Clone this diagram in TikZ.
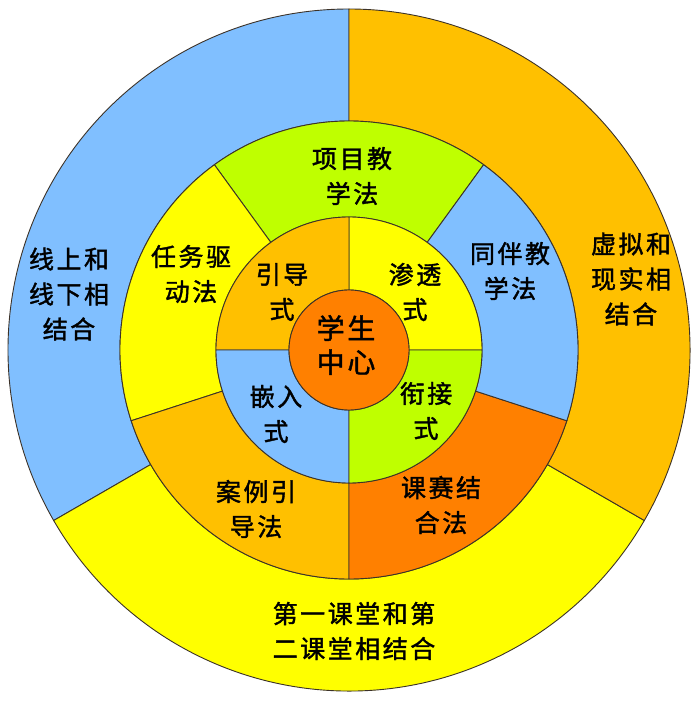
\documentclass[tikz,border=0pt]{standalone}
\usepackage{fontspec}
\newfontfamily\cjk{Noto Sans CJK SC}[LetterSpace=10,FakeBold=1.5]
\usepackage{tikz}
\definecolor{skyblue}{RGB}{128,191,255}
\definecolor{amber}{RGB}{255,192,0}
\definecolor{lemon}{RGB}{255,255,0}
\definecolor{lime}{RGB}{191,255,0}
\definecolor{tangerine}{RGB}{255,128,0}
\definecolor{edge}{RGB}{60,50,40}

\begin{document}
\begin{tikzpicture}[x=1pt,y=1pt,
  ring/.style={draw=edge,line width=0.9pt},
  lbl/.style={font=\cjk\fontsize{25}{35}\selectfont,align=center,inner sep=0pt},
  core/.style={font=\cjk\fontsize{28}{34}\selectfont,align=center,inner sep=0pt}]
\def\Ro{341pt}
\def\Rm{229pt}
\def\Ri{133pt}
\def\Rc{60pt}
\useasboundingbox (-349,-351) rectangle (351,350);
% outer ring
\foreach \a/\b/\c in {90/210/skyblue,210/330/lemon,330/450/amber}
  \filldraw[ring,fill=\c] (\a:\Ro) arc[start angle=\a,end angle=\b,radius=\Ro]
    -- (\b:\Rm) arc[start angle=\b,end angle=\a,radius=\Rm] -- cycle;
% middle ring
\foreach \a/\b/\c in {54/126/lime,126/198/lemon,198/270/amber,270/342/tangerine,342/414/skyblue}
  \filldraw[ring,fill=\c] (\a:\Rm) arc[start angle=\a,end angle=\b,radius=\Rm]
    -- (\b:\Ri) arc[start angle=\b,end angle=\a,radius=\Ri] -- cycle;
% inner ring
\foreach \a/\b/\c in {0/90/lemon,90/180/amber,180/270/skyblue,270/360/lime}
  \filldraw[ring,fill=\c] (\a:\Ri) arc[start angle=\a,end angle=\b,radius=\Ri]
    -- (\b:\Rc) arc[start angle=\b,end angle=\a,radius=\Rc] -- cycle;
\filldraw[ring,fill=tangerine] (0,0) circle (\Rc);
% labels
\node[lbl] (online)   at (-280,56)  {线上和\\线下相\\结合};
\node[lbl] (virtual)  at (282,71)   {虚拟和\\现实相\\结合};
\node[lbl] (classes)  at (5,-281)   {第一课堂和第\\二课堂相结合};
\node[lbl] (project)  at (3,174)    {项目教\\学法};
\node[lbl] (task)     at (-158,76)  {任务驱\\动法};
\node[lbl] (peer)     at (161,79)   {同伴教\\学法};
\node[lbl] (case)     at (-93,-159) {案例引\\导法};
\node[lbl] (contest)  at (92,-155)  {课赛结\\合法};
\node[lbl] (guide)    at (-67,58)   {引导\\式};
\node[lbl] (permeate) at (66,58)    {渗透\\式};
\node[lbl] (embed)    at (-73,-64)  {嵌入\\式};
\node[lbl] (link)     at (77,-61)   {衔接\\式};
\node[core] (student) at (-3,5)     {学生\\中心};
\end{tikzpicture}
\end{document}
